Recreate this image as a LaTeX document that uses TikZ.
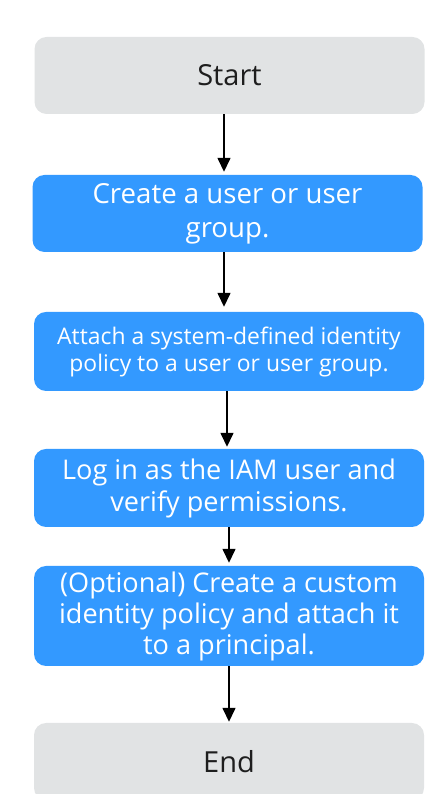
\documentclass[tikz,border=0pt]{standalone}
\usepackage{fontspec}
\setmainfont{Open Sans}
\usetikzlibrary{arrows.meta}
\definecolor{stepblue}{HTML}{3399FF}
\definecolor{termgrey}{HTML}{E1E3E4}
\definecolor{termtext}{HTML}{1E1E1E}
\begin{document}
\begin{tikzpicture}[x=1pt,y=1pt,
  base/.style={rectangle, rounded corners=12pt, minimum width=390pt, inner sep=0pt, align=center},
  term/.style={base, fill=termgrey, text=termtext, minimum height=77pt, font=\fontsize{29}{34}\selectfont},
  stepbox/.style={base, fill=stepblue, text=white, font=\fontsize{27.6}{34}\selectfont},
  arr/.style={line width=1.5pt, -{Triangle[length=14pt,width=13pt]}}]
\useasboundingbox (0,0) rectangle (447,794);
\clip (0,0) rectangle (447,794);
\node[term] (start) at (229.5,718.5) {Start};
\node[stepbox, minimum height=77pt] (s1) at (227.5,580.5) {Create a user or user\\group.};
\node[stepbox, minimum height=79pt, font=\fontsize{22.9}{27}\selectfont] (s2) at (229,442.5) {Attach a system-defined identity\\policy to a user or user group.};
\node[stepbox, minimum height=78pt, font=\fontsize{27.1}{32}\selectfont] (s3) at (229,306) {Log in as the IAM user and\\verify permissions.};
\node[stepbox, minimum height=100pt, font=\fontsize{27.1}{31}\selectfont] (s4) at (229,178) {(Optional) Create a custom\\identity policy and attach it\\to a principal.};
\node[term] (end) at (229,32.5) {End};
\draw[arr, shorten >=3pt] ([xshift=-5.5pt]start.south) -- ([xshift=-3.5pt]s1.north);
\draw[arr, shorten >=5pt] ([xshift=-3.5pt]s1.south) -- ([xshift=-5pt]s2.north);
\draw[arr, shorten >=2pt] ([xshift=-2pt]s2.south) -- ([xshift=-2pt]s3.north);
\draw[arr, shorten >=3pt] (s3.south) -- (s4.north);
\draw[arr, shorten >=1pt] (s4.south) -- (end.north);
\end{tikzpicture}
\end{document}
